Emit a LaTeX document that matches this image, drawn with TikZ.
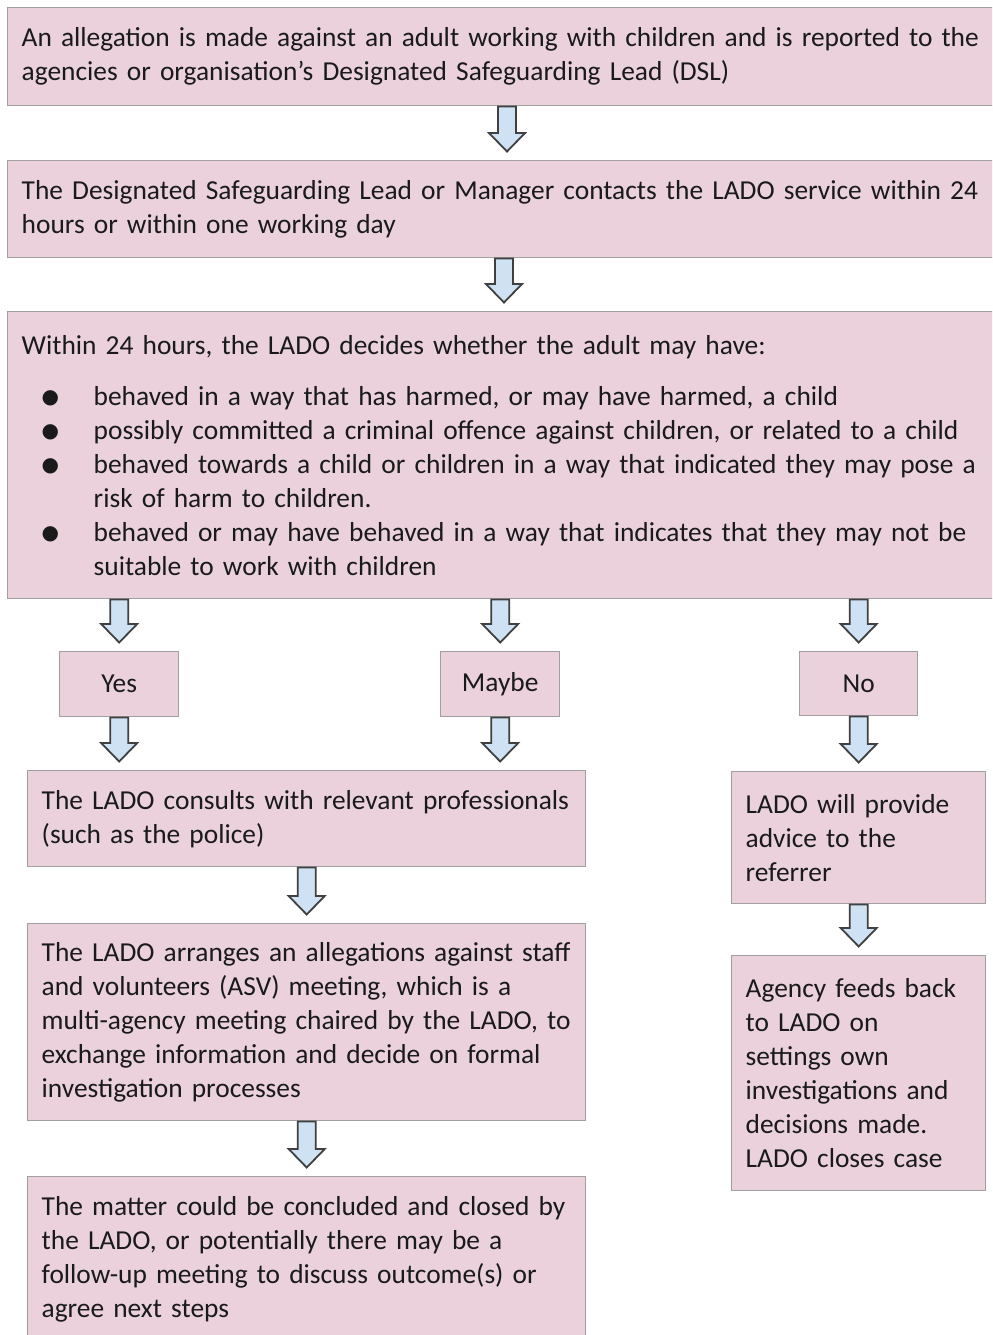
\documentclass[tikz,border=0pt]{standalone}
\usepackage{fontspec}
\setmainfont{Carlito}
\newfontfamily\dejavu{DejaVu Sans}
\usetikzlibrary{calc}
\definecolor{boxfill}{HTML}{EAD1DC}
\definecolor{boxline}{HTML}{A0A0A0}
\definecolor{arrfill}{HTML}{CFE2F3}
\definecolor{arrline}{HTML}{404040}
\definecolor{txt}{HTML}{1A1A1A}
\newcommand\bul{\makebox[36pt][l]{\hspace*{10pt}\raisebox{0.6pt}{\dejavu\fontsize{10}{10}\selectfont ●}}}
\begin{document}
\begin{tikzpicture}[x=0.5pt,y=-0.5pt,
  font=\fontsize{13.7}{17}\selectfont, text=txt,
  box/.style={draw=boxline, line width=0.7pt, fill=boxfill, anchor=north west,
    inner xsep=7pt, inner ysep=0pt, align=left},
  smallbox/.style={draw=boxline, line width=0.7pt, fill=boxfill, anchor=north west,
    inner sep=0pt, align=center},
  blockarrow/.style={draw=arrline, fill=arrfill, line width=0.9pt, line join=miter,
    to path={let \p1=(\tikztostart), \p2=(\tikztotarget) in
      (\x1-4.5pt,\y1) -- (\x1-4.5pt,\y2+13.5pt) -- (\x1-9pt,\y2+13.5pt) --
      (\x1,\y2+4.25pt) -- (\x1+9pt,\y2+13.5pt) -- (\x1+4.5pt,\y2+13.5pt) --
      (\x1+4.5pt,\y1) -- cycle}}]
\useasboundingbox (0,0) rectangle (992,1335);
\clip (0,0) rectangle (992,1335);
\fill[white] (0,0) rectangle (992,1335);

\node[box, minimum width=495pt, minimum height=49pt, text width=481pt] (b1) at (7,7)
 {\mbox{An allegation is made against an adult working with children and is reported to the}\\
  \mbox{agencies or organisation’s Designated Safeguarding Lead (DSL)}};

\node[box, minimum width=495pt, minimum height=48.5pt, text width=481pt] (b2) at (7,160)
 {\mbox{The Designated Safeguarding Lead or Manager contacts the LADO service within 24}\\
  \mbox{hours or within one working day}};

\node[box, minimum width=495pt, minimum height=143.5pt, text width=481pt] (b3) at (7,311)
 {\mbox{Within 24 hours, the LADO decides whether the adult may have:}\\[8.5pt]
  \bul\mbox{behaved in a way that has harmed, or may have harmed, a child}\\
  \bul\mbox{possibly committed a criminal offence against children, or related to a child}\\
  \bul\mbox{behaved towards a child or children in a way that indicated they may pose a}\\
  \hspace*{36pt}\mbox{risk of harm to children.}\\
  \bul\mbox{behaved or may have behaved in a way that indicates that they may not be}\\
  \hspace*{36pt}\mbox{suitable to work with children}};

\node[smallbox, minimum width=59.5pt, minimum height=32.5pt] (yes) at (59,651) {Yes};
\node[smallbox, minimum width=59.5pt, minimum height=32.5pt] (maybe) at (440,651) {Maybe};
\node[smallbox, minimum width=59pt, minimum height=32pt] (no) at (799,651) {No};

\node[box, minimum width=279pt, minimum height=48pt, text width=265pt] (consult) at (27,770)
 {\mbox{The LADO consults with relevant professionals}\\
  \mbox{(such as the police)}};

\node[box, minimum width=279pt, minimum height=98.5pt, text width=265pt] (asv) at (27,923)
 {\mbox{The LADO arranges an allegations against staff}\\
  \mbox{and volunteers (ASV) meeting, which is a}\\
  \mbox{multi-agency meeting chaired by the LADO, to}\\
  \mbox{exchange information and decide on formal}\\
  \mbox{investigation processes}};

\node[box, minimum width=279pt, minimum height=83pt, text width=265pt] (final) at (27,1176)
 {\mbox{The matter could be concluded and closed by}\\
  \mbox{the LADO, or potentially there may be a}\\
  \mbox{follow-up meeting to discuss outcome(s) or}\\
  \mbox{agree next steps}};

\node[box, minimum width=127pt, minimum height=66pt, text width=113pt] (advice) at (731,771)
 {\mbox{LADO will provide}\\
  \mbox{advice to the}\\
  \mbox{referrer}};

\node[box, minimum width=127pt, minimum height=117.5pt, text width=113pt] (agency) at (731,955)
 {\mbox{Agency feeds back}\\
  \mbox{to LADO on}\\
  \mbox{settings own}\\
  \mbox{investigations and}\\
  \mbox{decisions made.}\\
  \mbox{LADO closes case}};

\draw[blockarrow] ([xshift=250pt]b1.south west) to (b2.north);
\draw[blockarrow] ([xshift=248.5pt]b2.south west) to (b3.north);
\draw[blockarrow] (b3.south -| yes) to (yes.north);
\draw[blockarrow] (b3.south -| maybe) to (maybe.north);
\draw[blockarrow] (b3.south -| no) to (no.north);
\draw[blockarrow] (yes.south) to (consult.north);
\draw[blockarrow] (maybe.south) to (consult.north);
\draw[blockarrow] (no.south) to (advice.north);
\draw[blockarrow] (consult.south) to (asv.north);
\draw[blockarrow] (advice.south) to (agency.north);
\draw[blockarrow] (asv.south) to (final.north);
\end{tikzpicture}
\end{document}
